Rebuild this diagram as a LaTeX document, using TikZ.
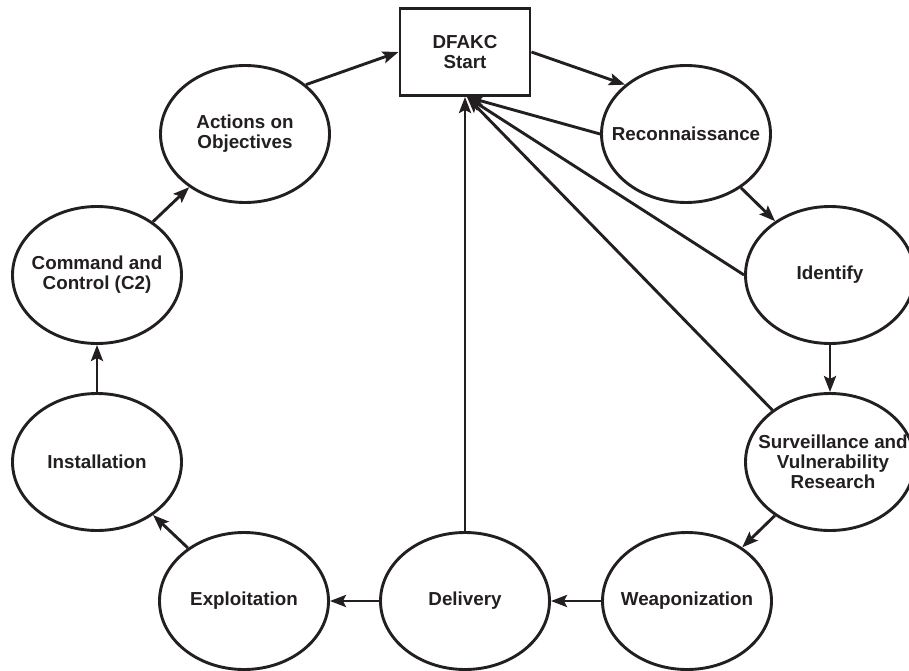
\documentclass[tikz,border=0pt]{standalone}
\usepackage{fontspec}
\setmainfont{Liberation Sans}
\usetikzlibrary{arrows.meta,shapes.geometric}
\definecolor{ink}{HTML}{231F20}
\tikzset{
  txt/.style={font=\bfseries\fontsize{18.8}{20}\selectfont, align=center, text=ink, inner sep=0pt},
  phase/.style={ellipse, draw=ink, line width=2.9pt, minimum width=169pt, minimum height=137pt, inner sep=0pt},
  startbox/.style={rectangle, draw=ink, line width=2.9pt, minimum width=130pt, minimum height=87pt, txt},
  conn/.style={draw=ink, line width=2.9pt},
  arr/.style={conn, -{Stealth[length=16pt,width=12pt,inset=3pt]}}
}
\begin{document}
\begin{tikzpicture}[x=1pt,y=-1pt]
\useasboundingbox (0,0) rectangle (909,671);
\node[startbox] (start) at (465,52) {DFAKC\\Start};
\node[phase, label={[txt]center:Reconnaissance}] (recon) at (686,134) {};
\node[phase, label={[txt]center:Identify}] (ident) at (830,275) {};
\node[phase, label={[txt,xshift=3pt]center:Surveillance and\\Vulnerability\\Research}] (surv) at (830,462) {};
\node[phase, label={[txt]center:Weaponization}] (weap) at (687,601) {};
\node[phase, label={[txt]center:Delivery}] (deliv) at (465,601) {};
\node[phase, label={[txt]center:Exploitation}] (expl) at (244,601) {};
\node[phase, label={[txt]center:Installation}] (inst) at (97,462) {};
\node[phase, label={[txt]center:Command and\\Control (C2)}] (ctrl) at (97,275) {};
\node[phase, label={[txt]center:Actions on\\Objectives}] (act) at (245,134) {};
\coordinate (conv) at (467,97);

\draw[arr] (act.39) -- (start.west);
\draw[arr] (start.east) -- (recon.141);
\draw[arr] (recon) -- (ident);
\draw[arr] (ident) -- (surv);
\draw[arr] (surv) -- (weap);
\draw[arr] (weap) -- (deliv);
\draw[arr] (deliv) -- (expl);
\draw[arr] (expl) -- (inst);
\draw[arr] (inst) -- (ctrl);
\draw[arr] (ctrl) -- (act);
\draw[arr] (recon.west) -- (conv);
\draw[arr] (ident.west) -- (conv);
\draw[arr] (surv.138) -- (conv);
\draw[arr] (deliv.north) -- (start.south);
\end{tikzpicture}
\end{document}
